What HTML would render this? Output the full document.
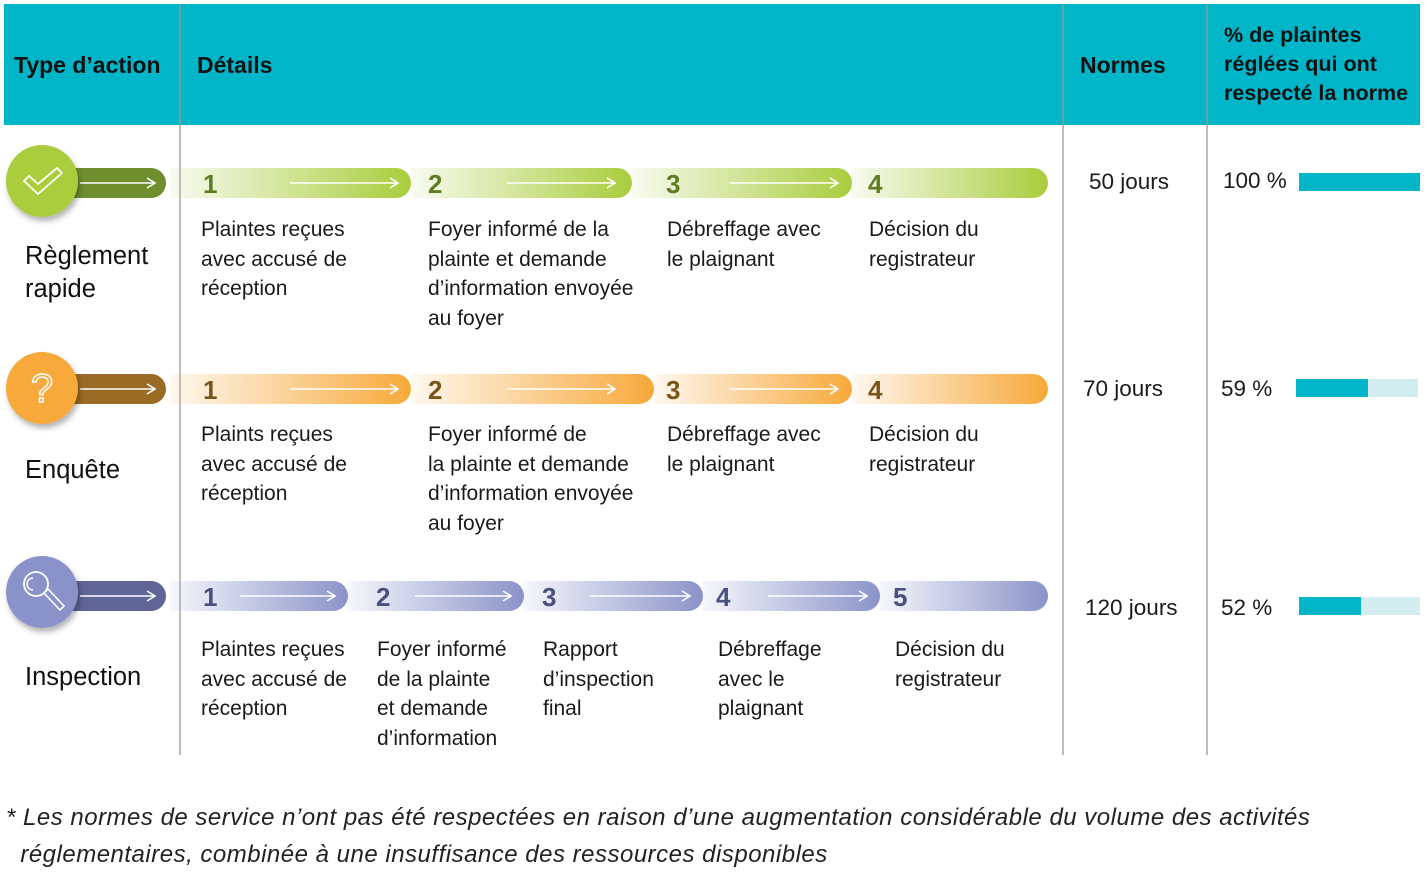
<!DOCTYPE html>
<html><head><meta charset="utf-8"><style>
body{margin:0;width:1427px;height:868px;background:#fff;overflow:hidden;font-family:"Liberation Sans",sans-serif;position:relative}
.t{position:absolute;font-size:21px;line-height:29.6px;color:#1a1a1a;white-space:nowrap}
.h{position:absolute;font-size:23px;font-weight:bold;color:#111;line-height:29px}
.lab{position:absolute;font-size:25.5px;color:#111;line-height:32px}
</style></head><body>
<svg width="1427" height="868" style="position:absolute;left:0;top:0">
<defs>
<linearGradient id="g" x1="0" x2="1"><stop offset="0" stop-color="#a9cd3c" stop-opacity="0.08"/><stop offset="1" stop-color="#a9cd3c"/></linearGradient>
<linearGradient id="o" x1="0" x2="1"><stop offset="0" stop-color="#f7a93a" stop-opacity="0.08"/><stop offset="1" stop-color="#f7a93a"/></linearGradient>
<linearGradient id="p" x1="0" x2="1"><stop offset="0" stop-color="#8a93c9" stop-opacity="0.08"/><stop offset="1" stop-color="#8a93c9"/></linearGradient>
<marker id="ah" markerWidth="10" markerHeight="12" refX="9" refY="6" orient="auto" markerUnits="userSpaceOnUse"><path d="M1,1 L9,6 L1,11" fill="none" stroke="#fff" stroke-width="1.6"/></marker>
<filter id="sh" x="-30%" y="-30%" width="160%" height="160%"><feDropShadow dx="2" dy="4" stdDeviation="3" flood-opacity="0.3"/></filter>
</defs>
<rect x="4" y="4" width="1416" height="121" fill="#00b5c8"/>
<g stroke="#999" stroke-width="1.3"><line x1="180" y1="4" x2="180" y2="755"/><line x1="1063" y1="4" x2="1063" y2="755"/><line x1="1207" y1="4" x2="1207" y2="755"/></g>
<path d="M852,168 H1033 a15,15 0 0 1 0,30 H852Z" fill="url(#g)"/>
<path d="M632,168 H837 a15,15 0 0 1 0,30 H632Z" fill="url(#g)"/>
<path d="M411,168 H617 a15,15 0 0 1 0,30 H411Z" fill="url(#g)"/>
<path d="M170,168 H396 a15,15 0 0 1 0,30 H170Z" fill="url(#g)"/>
<g stroke="#fff" stroke-width="1.6" marker-end="url(#ah)"><line x1="290" y1="183" x2="398" y2="183"/><line x1="507" y1="183" x2="615" y2="183"/><line x1="730" y1="183" x2="838" y2="183"/></g>
<path d="M852,374 H1033 a15,15 0 0 1 0,30 H852Z" fill="url(#o)"/>
<path d="M654,374 H837 a15,15 0 0 1 0,30 H654Z" fill="url(#o)"/>
<path d="M411,374 H639 a15,15 0 0 1 0,30 H411Z" fill="url(#o)"/>
<path d="M170,374 H396 a15,15 0 0 1 0,30 H170Z" fill="url(#o)"/>
<g stroke="#fff" stroke-width="1.6" marker-end="url(#ah)"><line x1="290" y1="389" x2="398" y2="389"/><line x1="507" y1="389" x2="615" y2="389"/><line x1="730" y1="389" x2="838" y2="389"/></g>
<path d="M880,581 H1033 a15,15 0 0 1 0,30 H880Z" fill="url(#p)"/>
<path d="M703,581 H865 a15,15 0 0 1 0,30 H703Z" fill="url(#p)"/>
<path d="M524,581 H688 a15,15 0 0 1 0,30 H524Z" fill="url(#p)"/>
<path d="M348,581 H509 a15,15 0 0 1 0,30 H348Z" fill="url(#p)"/>
<path d="M170,581 H333 a15,15 0 0 1 0,30 H170Z" fill="url(#p)"/>
<g stroke="#fff" stroke-width="1.6" marker-end="url(#ah)"><line x1="240" y1="596" x2="335" y2="596"/><line x1="415" y1="596" x2="511" y2="596"/><line x1="590" y1="596" x2="690" y2="596"/><line x1="768" y1="596" x2="867" y2="596"/></g>
<g font-family="Liberation Sans" font-weight="bold" font-size="26">
<g fill="#5e7d22"><text x="203" y="193">1</text><text x="428" y="193">2</text><text x="666" y="193">3</text><text x="868" y="193">4</text></g>
<g fill="#7a5418"><text x="203" y="399">1</text><text x="428" y="399">2</text><text x="666" y="399">3</text><text x="868" y="399">4</text></g>
<g fill="#4a5080"><text x="203" y="606">1</text><text x="376" y="606">2</text><text x="542" y="606">3</text><text x="716" y="606">4</text><text x="893" y="606">5</text></g>
</g>
<path d="M55,168 H151 a15,15 0 0 1 0,30 H55Z" fill="#6f8f2e"/>
<line x1="80" y1="183" x2="155" y2="183" stroke="#fff" stroke-width="1.6" marker-end="url(#ah)"/>
<circle cx="42" cy="181" r="36" fill="#a9cd3c" filter="url(#sh)"/>
<path d="M24,181 l14,13 l24,-21 l-5,-5 l-19,16 l-9,-8Z" fill="none" stroke="#fff" stroke-width="1.8" stroke-linejoin="round"/>
<path d="M55,374 H151 a15,15 0 0 1 0,30 H55Z" fill="#9a6b24"/>
<line x1="80" y1="389" x2="155" y2="389" stroke="#fff" stroke-width="1.6" marker-end="url(#ah)"/>
<circle cx="42" cy="388" r="36" fill="#f7a93a" filter="url(#sh)"/>
<text x="42" y="402" text-anchor="middle" font-family="Liberation Sans" font-size="40" fill="none" stroke="#fff" stroke-width="1.5">?</text>
<path d="M55,581 H151 a15,15 0 0 1 0,30 H55Z" fill="#5f6597"/>
<line x1="80" y1="596" x2="155" y2="596" stroke="#fff" stroke-width="1.6" marker-end="url(#ah)"/>
<circle cx="42" cy="592" r="36" fill="#8a93c9" filter="url(#sh)"/>
<circle cx="36" cy="584" r="12" fill="none" stroke="#fff" stroke-width="1.8"/>
<path d="M33,578 a6,6 0 0 0 0,12" fill="none" stroke="#fff" stroke-width="1.5"/>
<path d="M44,593 l4,-4 l16,17 l-4,4Z" fill="none" stroke="#fff" stroke-width="1.6"/>
<rect x="1299" y="173" width="121" height="18" fill="#00b5c8"/>
<rect x="1296" y="379" width="122" height="18" fill="#d3edf1"/><rect x="1296" y="379" width="72" height="18" fill="#00b5c8"/>
<rect x="1299" y="597" width="121" height="18" fill="#d3edf1"/><rect x="1299" y="597" width="62" height="18" fill="#00b5c8"/>
</svg>
<div class="h" style="left:14px;top:51px">Type d’action</div>
<div class="h" style="left:197px;top:51px">Détails</div>
<div class="h" style="left:1080px;top:51px">Normes</div>
<div class="h" style="left:1224px;top:21px;font-size:21.5px">% de plaintes<br>réglées qui ont<br>respecté la norme</div>
<div class="lab" style="left:25px;top:240px;line-height:33px">Règlement<br>rapide</div>
<div class="lab" style="left:25px;top:454px">Enquête</div>
<div class="lab" style="left:25px;top:661px">Inspection</div>
<div class="t" style="left:201px;top:215px">Plaintes reçues<br>avec accusé de<br>réception</div>
<div class="t" style="left:428px;top:215px">Foyer informé de la<br>plainte et demande<br>d’information envoyée<br>au foyer</div>
<div class="t" style="left:667px;top:215px">Débreffage avec<br>le plaignant</div>
<div class="t" style="left:869px;top:215px">Décision du<br>registrateur</div>
<div class="t" style="left:201px;top:420px">Plaints reçues<br>avec accusé de<br>réception</div>
<div class="t" style="left:428px;top:420px">Foyer informé de<br>la plainte et demande<br>d’information envoyée<br>au foyer</div>
<div class="t" style="left:667px;top:420px">Débreffage avec<br>le plaignant</div>
<div class="t" style="left:869px;top:420px">Décision du<br>registrateur</div>
<div class="t" style="left:201px;top:635px">Plaintes reçues<br>avec accusé de<br>réception</div>
<div class="t" style="left:377px;top:635px">Foyer informé<br>de la plainte<br>et demande<br>d’information</div>
<div class="t" style="left:543px;top:635px">Rapport<br>d’inspection<br>final</div>
<div class="t" style="left:718px;top:635px">Débreffage<br>avec le<br>plaignant</div>
<div class="t" style="left:895px;top:635px">Décision du<br>registrateur</div>
<div class="t" style="left:1089px;top:167px;font-size:22.5px">50 jours</div>
<div class="t" style="left:1083px;top:374px;font-size:22.5px">70 jours</div>
<div class="t" style="left:1085px;top:593px;font-size:22.5px">120 jours</div>
<div class="t" style="left:1223px;top:166px;font-size:22.5px">100 %</div>
<div class="t" style="left:1221px;top:374px;font-size:22.5px">59 %</div>
<div class="t" style="left:1221px;top:593px;font-size:22.5px">52 %</div>
<div class="t" style="left:6px;top:799px;font-size:24px;letter-spacing:0.5px;line-height:37px;font-style:italic;color:#222">* Les normes de service n’ont pas été respectées en raison d’une augmentation considérable du volume des activités<br>&nbsp;&nbsp;réglementaires, combinée à une insuffisance des ressources disponibles</div>
</body></html>
